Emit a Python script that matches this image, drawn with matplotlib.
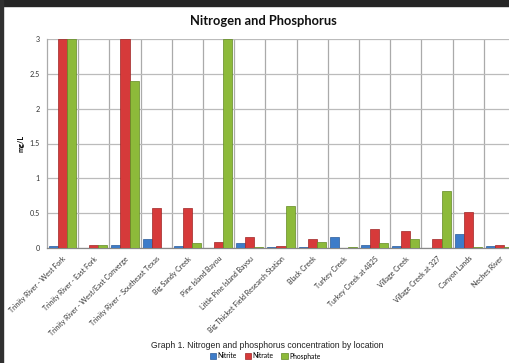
import matplotlib
matplotlib.use("Agg")
import matplotlib.pyplot as plt
import numpy as np
from matplotlib.patches import Rectangle

categories = [
    "Trinity River - West Fork", "Trinity River - East Fork",
    "Trinity River - West/East Converge", "Trinity River - Southeast Texas",
    "Big Sandy Creek", "Pine Island Bayou", "Little Pine Island Bayou",
    "Big Thicket Field Research Station", "Black Creek", "Turkey Creek",
    "Turkey Creek at 4825", "Village Creek", "Village Creek at 327",
    "Canyon Lands", "Neches River",
]
nitrite = [0.03, 0.0, 0.04, 0.125, 0.03, 0.0, 0.065, 0.01, 0.01, 0.16, 0.05, 0.03, 0.0, 0.2, 0.03]
nitrate = [3.0, 0.05, 3.0, 0.58, 0.57, 0.09, 0.16, 0.03, 0.125, 0.0, 0.27, 0.25, 0.125, 0.51, 0.045]
phosphate = [3.0, 0.045, 2.4, 0.0, 0.07, 3.0, 0.02, 0.61, 0.09, 0.01, 0.065, 0.125, 0.82, 0.02, 0.02]
yticks = [0, 0.5, 1, 1.5, 2, 2.5, 3]
ytick_labels = ["0", "0.5", "1", "1.5", "2", "2.5", "3"]

W, H = 510, 363
fig = plt.figure(figsize=(W / 100, H / 100), dpi=100)
fig.patch.set_facecolor("white")

# dark border at top and left
fig.patches.append(Rectangle((0, 1 - 5.5 / H), 1, 5.5 / H, transform=fig.transFigure,
                             color="#252525", zorder=0))
fig.patches.append(Rectangle((0, 0), 3 / W, 1, transform=fig.transFigure,
                             color="#303030", zorder=0))

ax = fig.add_axes([47 / W, 1 - 248 / H, 468 / W, (248 - 39) / H])
x = np.arange(len(categories))
bw = 0.29
cols = {"Nitrite": "#3D7CC9", "Nitrate": "#D63A3A", "Phosphate": "#8DBA3A"}
edges = {"Nitrite": "#2A5A99", "Nitrate": "#9E2525", "Phosphate": "#628A22"}
for off, vals, name in [(-bw, nitrite, "Nitrite"), (0, nitrate, "Nitrate"), (bw, phosphate, "Phosphate")]:
    ax.bar(x + off, vals, width=bw, color=cols[name], edgecolor=edges[name],
           linewidth=0.5, label=name, zorder=3)

ax.set_xlim(-0.5, len(categories) - 0.5)
ax.set_ylim(0, 3)
ax.set_yticks(yticks)
ax.set_yticklabels(ytick_labels, fontsize=5.2, family="Lato", color="#333333")
ax.set_xticks(x)
ax.set_xticklabels(categories, rotation=45, ha="right", rotation_mode="anchor",
                   fontsize=5.0, family="Lato", color="#333333")
ax.tick_params(axis="x", length=0, pad=5)
ax.tick_params(axis="y", length=0, pad=5)

ax.set_xticks(np.arange(len(categories)) + 0.5, minor=True)
ax.tick_params(axis="x", which="minor", length=0)
ax.grid(axis="y", color="#BBBBBB", linewidth=0.9, zorder=0)
ax.grid(axis="x", which="minor", color="#AAAAAA", linewidth=0.9, zorder=0)
ax.grid(axis="x", which="major", visible=False)
for s in ["top", "right"]:
    ax.spines[s].set_visible(False)
ax.spines["left"].set_color("#AAAAAA")
ax.spines["left"].set_linewidth(0.9)
ax.spines["bottom"].set_color("#888888")
ax.spines["bottom"].set_linewidth(0.9)

ax.set_ylabel("mg/L", fontsize=5.2, family="Lato", fontweight="bold", labelpad=4)

fig.text(263 / W, 1 - 21 / H, "Nitrogen and Phosphorus", ha="center", va="center",
         fontsize=9.3, fontweight="bold", family="Lato", color="#111111")
fig.text(267 / W, 1 - 346 / H, "Graph 1. Nitrogen and phosphorus concentration by location",
         ha="center", va="center", fontsize=6.2, family="Liberation Sans", color="#222222")

leg = fig.legend(loc="center", bbox_to_anchor=(265 / W, 1 - 356 / H), ncol=3, frameon=False,
                 prop={"family": "Lato", "size": 4.9}, handlelength=0.9, handleheight=0.9,
                 handletextpad=0.2, columnspacing=1.2, borderpad=0)

fig.savefig("out.png", dpi=100)
